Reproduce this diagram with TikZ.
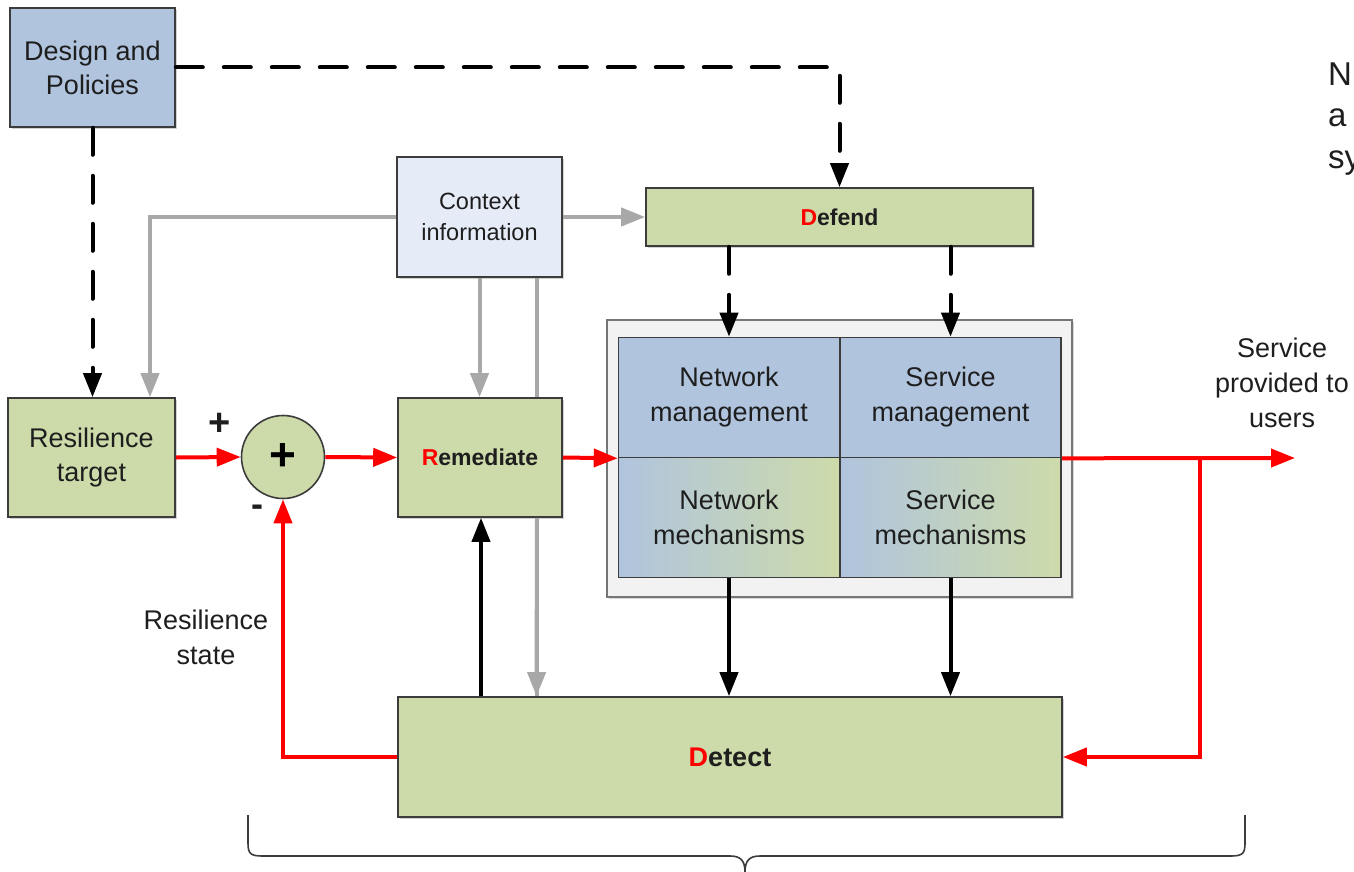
\documentclass[tikz,border=0pt]{standalone}
\usepackage{fontspec}
\setmainfont{Liberation Sans}
\usetikzlibrary{arrows.meta,shadows,calc}
\definecolor{boxblue}{RGB}{176,196,222}
\definecolor{boxgreen}{RGB}{205,219,170}
\definecolor{ctxblue}{RGB}{230,236,247}
\definecolor{outerfill}{RGB}{242,242,242}
\definecolor{edgegray}{RGB}{60,60,60}
\definecolor{linegray}{RGB}{168,168,168}
\definecolor{txt}{RGB}{30,30,30}
\definecolor{lred}{RGB}{255,0,0}
\tikzset{
  box/.style={draw=edgegray, line width=1.6pt, inner sep=0pt, align=center, text=txt,
    font=\fontsize{27}{34}\selectfont,
    drop shadow={shadow xshift=2pt, shadow yshift=-2pt, opacity=0.35}},
  gbox/.style={box, fill=boxgreen},
  bbox/.style={box, fill=boxblue},
  cell/.style={draw=edgegray, line width=1.6pt, inner sep=0pt, align=center, text=txt,
    font=\fontsize{27}{35}\selectfont, minimum width=221pt, minimum height=120pt},
  gradcell/.style={cell, left color=boxblue, right color=boxgreen},
  tip/.style={-{Triangle[length=24pt,width=18pt]}},
  redarrow/.style={tip, draw=lred, line width=4pt},
  blackarrow/.style={tip, draw=black, line width=4pt},
  dasharrow/.style={tip, draw=black, line width=4pt, dash pattern=on 27pt off 21pt, line cap=round},
  grayarrow/.style={tip, draw=linegray, line width=4pt},
  grayline/.style={draw=linegray, line width=4pt},
  lbl/.style={align=center, text=txt, font=\fontsize{27}{35}\selectfont, inner sep=0pt},
  sidetext/.style={anchor=base west, text=txt, font=\fontsize{33}{40}\selectfont, inner sep=0pt},
}
\begin{document}
\begin{tikzpicture}[x=1pt,y=-1pt]
\clip (0,0) rectangle (1354,872);
\fill[white] (0,0) rectangle (1354,872);

% outer group box
\node[draw=edgegray!70, line width=2pt, fill=outerfill, minimum width=465pt, minimum height=277pt,
  drop shadow={shadow xshift=2pt, shadow yshift=-2pt, opacity=0.3}] (outer) at (839.5,458.5) {};

% context box and the gray line that runs behind Remediate
\node[box, fill=ctxblue, minimum width=165pt, minimum height=120pt,
  font=\fontsize{23.5}{31}\selectfont] (context) at (479.5,217) {Context\\information};
\draw[grayline] ([xshift=57pt]context.south) -- ++(0,420) coordinate (ctxdown);

% boxes
\node[bbox, minimum width=165pt, minimum height=119pt] (design) at (92.5,67.5) {Design and\\Policies};
\node[gbox, minimum width=167pt, minimum height=119pt] (target) at (91.5,457.5) {Resilience\\target};
\node[gbox, minimum width=164pt, minimum height=119pt, font=\bfseries\fontsize{23}{30}\selectfont] (remed) at (480,457.5) {\textcolor{lred}{R}emediate};
\node[gbox, minimum width=387pt, minimum height=58pt, font=\bfseries\fontsize{23}{30}\selectfont] (defend) at (839.5,217) {\textcolor{lred}{D}efend};
\node[gbox, minimum width=664pt, minimum height=120pt, font=\bfseries\fontsize{27}{34}\selectfont] (detect) at (730,757) {\textcolor{lred}{D}etect};
\node[circle, draw=edgegray, line width=1.6pt, fill=boxgreen, minimum size=83pt, inner sep=0pt,
  font=\bfseries\fontsize{46}{46}\selectfont] (sum) at (283,457) {+};

% grid cells
\node[cell, fill=boxblue] (nm) at (729,397.5) {Network\\management};
\node[cell, fill=boxblue] (sm) at (950.5,397.5) {Service\\management};
\node[gradcell] (nmech) at (729,517.5) {Network\\mechanisms};
\node[gradcell] (smech) at (950.5,517.5) {Service\\mechanisms};

% labels
\node[lbl, font=\bfseries\fontsize{38}{38}\selectfont] (plus) at (220,424) {+};
\node[lbl, font=\bfseries\fontsize{36}{36}\selectfont] (minus) at (257,511) {-};
\node[lbl] (rstate) at (206,637) {Resilience\\state};
\node[lbl] (service) at (1282,383) {Service\\provided to\\users};
\node[sidetext] (sideN) at (1328,86) {N};
\node[sidetext] (sideA) at (1328,127) {a};
\node[sidetext] (sideS) at (1328,168) {sy};

% dashed policy arrows
\draw[dasharrow] (design.east) -| (defend.north);
\draw[dasharrow] (design.south) -- (design.south |- target.north);
\draw[dasharrow] (defend.south -| nm.north) -- (nm.north);
\draw[dasharrow] (defend.south -| sm.north) -- (sm.north);

% gray context arrows
\draw[grayarrow] (context.west) -| ([xshift=58.5pt]target.north);
\draw[grayarrow] (context.east) -- (defend.west);
\draw[grayarrow] (context.south) -- (context.south |- remed.north);
\draw[grayarrow] ([xshift=57pt]remed.south |- remed.south) -- ([xshift=57pt]context.south |- detect.north);

% black arrows
\draw[blackarrow] (nmech.south) -- (nmech.south |- detect.north);
\draw[blackarrow] (smech.south) -- (smech.south |- detect.north);
\draw[blackarrow] ([xshift=1pt]detect.north -| remed.south) -- ([xshift=1pt]remed.south);

% red loop
\coordinate (out) at (1295,458);
\coordinate (br) at (1200,458);
\draw[redarrow] (target.east) -- (sum.west);
\draw[redarrow] (sum.east) -- (remed.west);
\draw[redarrow] (remed.east) -- (nm.south west);
\draw[redarrow] (sm.south east) -- (out);
\draw[redarrow] (br) |- (detect.east);
\draw[redarrow] (detect.west) -| (sum.south);

% brace
\coordinate (bl) at (248,815);
\coordinate (bt) at (745,872);
\coordinate (brr) at (1245,815);
\draw[edgegray, line width=1.6pt]
  (bl) -- (248,843) .. controls (248,853) and (250,856) .. (262,856) -- (730,856)
  .. controls (740,856) and (745,860) .. (bt);
\draw[edgegray, line width=1.6pt]
  (brr) -- (1245,843) .. controls (1245,853) and (1243,856) .. (1231,856) -- (760,856)
  .. controls (750,856) and (745,860) .. (bt);
\end{tikzpicture}
\end{document}
